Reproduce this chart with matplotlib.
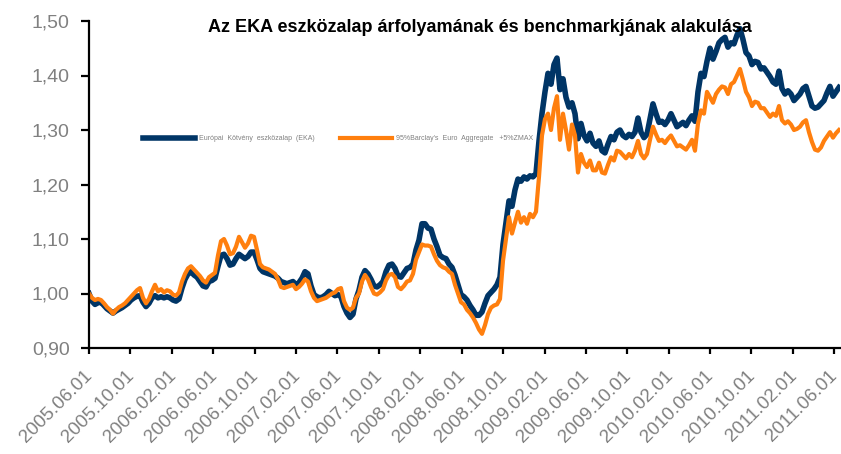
import matplotlib
matplotlib.use("Agg")
import matplotlib.pyplot as plt
import matplotlib.dates as mdates
import matplotlib.transforms as mtransforms
import pandas as pd

plt.rcParams['font.family'] = ['Liberation Sans', 'DejaVu Sans']

# values, about every 9 days from 2005.06.01
eka = [1.000, 0.986, 0.980, 0.983, 0.984, 0.978, 0.972, 0.968, 0.964, 0.968,
       0.971, 0.974, 0.978, 0.982, 0.988, 0.992, 0.995, 0.996, 0.984, 0.976,
       0.982, 0.992, 0.996, 0.992, 0.994, 0.992, 0.994, 0.992, 0.988, 0.986,
       0.990, 1.010, 1.026, 1.036, 1.040, 1.034, 1.030, 1.022, 1.014, 1.012,
       1.022, 1.024, 1.028, 1.050, 1.070, 1.072, 1.064, 1.052, 1.054, 1.064,
       1.072, 1.068, 1.064, 1.068, 1.076, 1.076, 1.062, 1.046, 1.040, 1.038,
       1.036, 1.034, 1.032, 1.028, 1.022, 1.020, 1.018, 1.020, 1.022, 1.016,
       1.020, 1.028, 1.040, 1.036, 1.014, 0.998, 0.994, 0.992, 0.994, 0.998,
       1.004, 1.000, 0.996, 0.998, 0.994, 0.976, 0.964, 0.956, 0.962, 0.990,
       1.006, 1.030, 1.042, 1.036, 1.026, 1.014, 1.012, 1.016, 1.022, 1.040,
       1.052, 1.054, 1.046, 1.032, 1.030, 1.038, 1.046, 1.048, 1.054, 1.080,
       1.098, 1.128, 1.128, 1.120, 1.118, 1.100, 1.086, 1.070, 1.066, 1.064,
       1.054, 1.048, 1.034, 1.016, 0.998, 0.994, 0.988, 0.978, 0.970, 0.960,
       0.960, 0.966, 0.982, 0.996, 1.002, 1.008, 1.016, 1.030, 1.090, 1.130,
       1.170, 1.160, 1.190, 1.210, 1.206, 1.214, 1.210, 1.216, 1.214, 1.220,
       1.280, 1.330, 1.370, 1.404, 1.384, 1.420, 1.432, 1.374, 1.394, 1.360,
       1.342, 1.350, 1.330, 1.284, 1.312, 1.290, 1.280, 1.294, 1.276, 1.270,
       1.280, 1.262, 1.258, 1.274, 1.288, 1.282, 1.296, 1.300, 1.290, 1.286,
       1.292, 1.288, 1.296, 1.322, 1.296, 1.286, 1.292, 1.320, 1.348, 1.330,
       1.314, 1.316, 1.310, 1.318, 1.330, 1.318, 1.306, 1.310, 1.314, 1.308,
       1.318, 1.326, 1.316, 1.370, 1.404, 1.398, 1.426, 1.450, 1.430, 1.444,
       1.460, 1.466, 1.470, 1.452, 1.460, 1.458, 1.474, 1.486, 1.466, 1.442,
       1.436, 1.420, 1.426, 1.424, 1.412, 1.414, 1.406, 1.398, 1.388, 1.384,
       1.408, 1.376, 1.366, 1.372, 1.366, 1.354, 1.360, 1.366, 1.376, 1.380,
       1.362, 1.344, 1.340, 1.342, 1.348, 1.354, 1.368, 1.380, 1.362, 1.370,
       1.378]

bench = [1.000, 0.992, 0.988, 0.990, 0.988, 0.982, 0.975, 0.970, 0.963, 0.970,
         0.975, 0.978, 0.982, 0.988, 0.994, 1.000, 1.006, 1.010, 0.992, 0.982,
         0.990, 1.004, 1.016, 1.004, 1.008, 1.002, 1.006, 1.004, 0.998, 0.996,
         1.002, 1.022, 1.036, 1.046, 1.050, 1.044, 1.038, 1.032, 1.024, 1.020,
         1.030, 1.034, 1.038, 1.070, 1.096, 1.100, 1.088, 1.072, 1.074, 1.086,
         1.104, 1.094, 1.084, 1.092, 1.106, 1.104, 1.080, 1.054, 1.048, 1.046,
         1.044, 1.040, 1.036, 1.026, 1.012, 1.010, 1.012, 1.014, 1.016, 1.008,
         1.012, 1.018, 1.026, 1.022, 1.004, 0.992, 0.986, 0.988, 0.990, 0.992,
         0.996, 1.000, 1.002, 1.008, 1.010, 0.986, 0.974, 0.970, 0.974, 0.992,
         1.000, 1.022, 1.034, 1.026, 1.012, 1.000, 0.998, 1.002, 1.008, 1.024,
         1.034, 1.036, 1.030, 1.012, 1.008, 1.014, 1.022, 1.024, 1.036, 1.062,
         1.076, 1.090, 1.088, 1.088, 1.086, 1.072, 1.060, 1.052, 1.048, 1.046,
         1.040, 1.036, 1.016, 1.000, 0.984, 0.980, 0.970, 0.964, 0.956, 0.946,
         0.934, 0.926, 0.942, 0.962, 0.974, 0.978, 0.980, 0.990, 1.060, 1.100,
         1.140, 1.110, 1.130, 1.150, 1.130, 1.140, 1.128, 1.146, 1.140, 1.150,
         1.214, 1.290, 1.320, 1.330, 1.300, 1.340, 1.362, 1.282, 1.330, 1.300,
         1.264, 1.310, 1.290, 1.222, 1.256, 1.240, 1.232, 1.244, 1.226, 1.226,
         1.240, 1.222, 1.220, 1.236, 1.250, 1.244, 1.262, 1.260, 1.254, 1.248,
         1.256, 1.250, 1.262, 1.280, 1.256, 1.248, 1.256, 1.282, 1.306, 1.292,
         1.280, 1.282, 1.276, 1.284, 1.290, 1.280, 1.270, 1.272, 1.268, 1.264,
         1.272, 1.282, 1.262, 1.312, 1.336, 1.330, 1.370, 1.360, 1.350, 1.366,
         1.374, 1.380, 1.378, 1.366, 1.384, 1.388, 1.400, 1.412, 1.392, 1.370,
         1.360, 1.344, 1.352, 1.350, 1.340, 1.340, 1.332, 1.324, 1.330, 1.326,
         1.344, 1.318, 1.312, 1.316, 1.310, 1.300, 1.302, 1.306, 1.314, 1.318,
         1.296, 1.278, 1.264, 1.262, 1.268, 1.280, 1.288, 1.296, 1.286, 1.294,
         1.300]

dates = pd.date_range('2005-06-01', '2011-06-16', periods=len(eka))

label_eka = 'Európai  Kötvény  eszközalap  (EKA)'
label_bench = "95%Barclay's  Euro  Aggregate   +5%ZMAX"
title = 'Az EKA eszközalap árfolyamának és benchmarkjának alakulása'
tick_dates = pd.date_range('2005-06-01', '2011-06-01', freq='4MS')
y_ticks = [0.9, 1.0, 1.1, 1.2, 1.3, 1.4, 1.5]

navy = '#003566'
orange = '#ff7f0e'
gray = '#808080'

fig = plt.figure(figsize=(8.41, 4.54), dpi=100)
ax = fig.add_axes([89 / 841, 106 / 454, 751 / 841, 327 / 454])

ax.plot(dates, eka, color=navy, lw=4.0, solid_joinstyle='round', label=label_eka)
ax.plot(dates, bench, color=orange, lw=3.0, solid_joinstyle='round', label=label_bench)

ax.set_ylim(0.90, 1.50)
ax.set_xlim(pd.Timestamp('2005-06-01'), pd.Timestamp('2011-06-19'))
ax.set_yticks(y_ticks)
ax.set_yticklabels([('%.2f' % v).replace('.', ',') for v in y_ticks])
ax.set_xticks(tick_dates)
ax.xaxis.set_major_formatter(mdates.DateFormatter('%Y.%m.%d'))

for s in ['top', 'right']:
    ax.spines[s].set_visible(False)
for s in ['left', 'bottom']:
    ax.spines[s].set_linewidth(1.6)
ax.tick_params(axis='y', direction='out', length=6, width=1.6, pad=8,
               labelsize=14, labelcolor=gray)
ax.tick_params(axis='x', direction='out', length=4, width=1.6, pad=10,
               labelsize=13.5, labelcolor=gray)
shift = mtransforms.ScaledTranslation(-5 / 100, 0, fig.dpi_scale_trans)
for lab in ax.get_xticklabels():
    lab.set_rotation(45)
    lab.set_ha('right')
    lab.set_va('top')
    lab.set_rotation_mode('anchor')
    lab.set_transform(lab.get_transform() + shift)

leg = ax.legend(loc='center left', bbox_to_anchor=(51 / 751, 1 - 118 / 327), ncol=2,
                frameon=False, fontsize=5, handlelength=7.5, handletextpad=0.6,
                columnspacing=3.6, borderaxespad=0)
for t in leg.get_texts():
    t.set_color(gray)

fig.text(480 / 841, 1 - 32 / 454, title, ha='center', va='baseline',
         fontsize=13, fontweight='bold', color='black')

fig.savefig('out.png', dpi=100)
